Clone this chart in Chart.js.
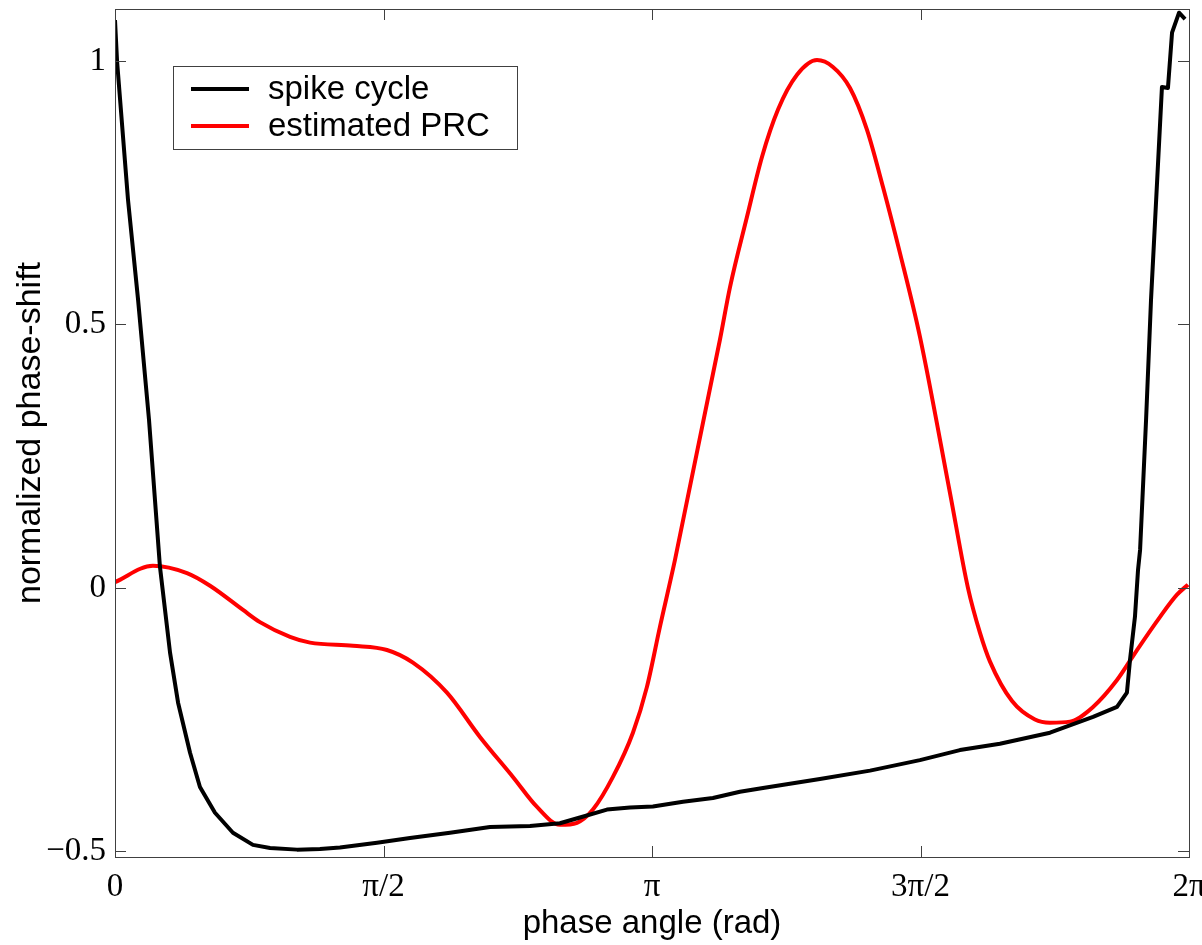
<!DOCTYPE html>
<html>
<head>
<meta charset="utf-8">
<script src="https://cdn.jsdelivr.net/npm/chart.js@4.4.0/dist/chart.umd.min.js"></script>
<style>
  html, body { margin: 0; padding: 0; background: #ffffff; }
  #wrap { width: 1202px; height: 945px; }
</style>
</head>
<body>
<div id="wrap"><canvas id="c" width="1202" height="945"></canvas></div>
<script>
// ---- data (phase in radians, normalized phase-shift) ----
const seriesNames = ['spike cycle', 'estimated PRC'];

const spikePhase = [0.0, 0.012, 0.076, 0.135, 0.199, 0.263, 0.322, 0.369, 0.439, 0.497, 0.585, 0.690, 0.807, 0.907, 1.065, 1.199, 1.316, 1.533, 1.726, 1.960, 2.194, 2.428, 2.603, 2.720, 2.878, 3.013, 3.147, 3.323, 3.498, 3.656, 3.791, 4.124, 4.417, 4.709, 4.943, 5.177, 5.470, 5.722, 5.862, 5.920, 5.938, 5.967, 5.985, 5.997, 6.032, 6.061, 6.125, 6.160, 6.184, 6.225, 6.260];
const spikeValues = [1.078, 1.0, 0.737, 0.547, 0.319, 0.040, -0.123, -0.218, -0.313, -0.378, -0.427, -0.465, -0.488, -0.494, -0.497, -0.496, -0.493, -0.484, -0.475, -0.465, -0.454, -0.452, -0.447, -0.436, -0.421, -0.417, -0.415, -0.406, -0.399, -0.387, -0.380, -0.363, -0.347, -0.327, -0.308, -0.296, -0.275, -0.245, -0.226, -0.199, -0.137, -0.055, 0.034, 0.072, 0.319, 0.547, 0.951, 0.949, 1.054, 1.092, 1.080];

const prcPhase = [0.0, 0.222, 0.421, 0.556, 0.749, 0.848, 1.024, 1.141, 1.392, 1.591, 1.743, 1.942, 2.135, 2.328, 2.469, 2.603, 2.703, 2.796, 2.913, 3.030, 3.112, 3.188, 3.276, 3.539, 3.598, 3.697, 3.785, 3.879, 3.990, 4.107, 4.200, 4.300, 4.399, 4.493, 4.592, 4.709, 4.885, 4.990, 5.060, 5.119, 5.248, 5.382, 5.470, 5.587, 5.722, 5.862, 5.979, 6.114, 6.213, 6.277];
const prcValues = [0.011, 0.042, 0.028, 0.004, -0.042, -0.065, -0.093, -0.104, -0.110, -0.118, -0.142, -0.199, -0.283, -0.359, -0.416, -0.450, -0.446, -0.421, -0.359, -0.275, -0.188, -0.074, 0.053, 0.471, 0.571, 0.704, 0.818, 0.908, 0.974, 1.002, 0.989, 0.949, 0.870, 0.761, 0.636, 0.477, 0.180, 0.0, -0.085, -0.140, -0.215, -0.250, -0.256, -0.254, -0.226, -0.175, -0.118, -0.055, -0.013, 0.006];

const xTickValues = [0, Math.PI / 2, Math.PI, 3 * Math.PI / 2, 2 * Math.PI];
const xTickLabels = ['0', 'π/2', 'π', '3π/2', '2π'];
const yTickValues = [-0.5, 0, 0.5, 1];
const yTickLabels = ['\u22120.5', '0', '0.5', '1'];

const toPoints = (xs, ys) => xs.map((x, i) => ({ x: x, y: ys[i] }));

// ---- plugins ----
const bgPlugin = {
  id: 'bg',
  beforeDraw(chart) {
    const ctx = chart.ctx;
    ctx.save();
    ctx.fillStyle = '#ffffff';
    ctx.fillRect(0, 0, chart.width, chart.height);
    ctx.restore();
  }
};

const boxTicksPlugin = {
  id: 'boxTicks',
  afterDatasetsDraw(chart) {
    const { ctx, chartArea: a, scales } = chart;
    const L = 11;
    ctx.save();
    ctx.strokeStyle = '#404040';
    ctx.lineWidth = 1;
    ctx.beginPath();
    scales.x.ticks.forEach(t => {
      const px = Math.round(scales.x.getPixelForValue(t.value)) + 0.5;
      ctx.moveTo(px, a.bottom); ctx.lineTo(px, a.bottom - L);
      ctx.moveTo(px, a.top); ctx.lineTo(px, a.top + L);
    });
    scales.y.ticks.forEach(t => {
      const py = Math.round(scales.y.getPixelForValue(t.value)) + 0.5;
      ctx.moveTo(a.left, py); ctx.lineTo(a.left + L, py);
      ctx.moveTo(a.right, py); ctx.lineTo(a.right - L, py);
    });
    ctx.stroke();
    ctx.strokeRect(Math.round(a.left) + 0.5, Math.round(a.top) + 0.5,
                   Math.round(a.right - a.left), Math.round(a.bottom - a.top));
    ctx.restore();
  }
};

const insideLegendPlugin = {
  id: 'insideLegend',
  afterDraw(chart) {
    const ctx = chart.ctx;
    const bx = 173, by = 66, bw = 344, bh = 83;
    ctx.save();
    ctx.fillStyle = '#ffffff';
    ctx.fillRect(bx, by, bw, bh);
    ctx.strokeStyle = '#404040';
    ctx.lineWidth = 1;
    ctx.strokeRect(bx + 0.5, by + 0.5, bw, bh);
    ctx.font = '33px "Liberation Sans", Arial, sans-serif';
    ctx.textBaseline = 'middle';
    ctx.textAlign = 'left';
    chart.data.datasets.forEach((ds, i) => {
      const y = 89 + i * 37;
      ctx.strokeStyle = ds.borderColor;
      ctx.lineWidth = 4;
      ctx.beginPath();
      ctx.moveTo(191, y); ctx.lineTo(249, y);
      ctx.stroke();
      ctx.fillStyle = '#000000';
      ctx.fillText(ds.label, 268, y + 1);
    });
    ctx.restore();
  }
};

new Chart(document.getElementById('c'), {
  type: 'line',
  data: {
    datasets: [
      {
        label: seriesNames[0],
        data: toPoints(spikePhase, spikeValues),
        borderColor: '#000000',
        borderWidth: 4,
        pointRadius: 0,
        tension: 0,
        borderJoinStyle: 'round',
        fill: false
      },
      {
        label: seriesNames[1],
        data: toPoints(prcPhase, prcValues),
        borderColor: '#ff0000',
        borderWidth: 4,
        pointRadius: 0,
        cubicInterpolationMode: 'monotone',
        fill: false
      }
    ]
  },
  options: {
    responsive: false,
    animation: false,
    devicePixelRatio: 1,
    layout: { padding: { top: 9, right: 13, left: 0, bottom: 0 } },
    plugins: {
      legend: { display: false },
      tooltip: { enabled: false }
    },
    scales: {
      x: {
        type: 'linear',
        min: 0,
        max: 2 * Math.PI,
        grid: { display: false, drawTicks: false },
        border: { display: false },
        afterBuildTicks(scale) { scale.ticks = xTickValues.map(v => ({ value: v })); },
        afterFit(scale) { scale.height = 88; scale.paddingLeft = 0; scale.paddingRight = 0; },
        ticks: {
          padding: 11,
          maxRotation: 0,
          autoSkip: false,
          color: '#000000',
          font: { family: '"Liberation Serif", "Times New Roman", serif', size: 33 },
          callback: (v, i) => xTickLabels[i]
        },
        title: {
          display: true,
          text: 'phase angle (rad)',
          color: '#000000',
          font: { family: '"Liberation Sans", Arial, sans-serif', size: 33 },
          padding: { top: 0, bottom: 1 }
        }
      },
      y: {
        type: 'linear',
        min: -0.511,
        max: 1.099,
        grid: { display: false, drawTicks: false },
        border: { display: false },
        afterBuildTicks(scale) { scale.ticks = yTickValues.map(v => ({ value: v })); },
        afterFit(scale) { scale.width = 115; scale.paddingTop = 0; scale.paddingBottom = 0; },
        ticks: {
          padding: 9,
          autoSkip: false,
          color: '#000000',
          font: { family: '"Liberation Serif", "Times New Roman", serif', size: 33 },
          callback: (v, i) => yTickLabels[i]
        },
        title: {
          display: true,
          text: 'normalized phase-shift',
          color: '#000000',
          font: { family: '"Liberation Sans", Arial, sans-serif', size: 34 },
          padding: { top: 10, bottom: 0 }
        }
      }
    }
  },
  plugins: [bgPlugin, boxTicksPlugin, insideLegendPlugin]
});
</script>
</body>
</html>
